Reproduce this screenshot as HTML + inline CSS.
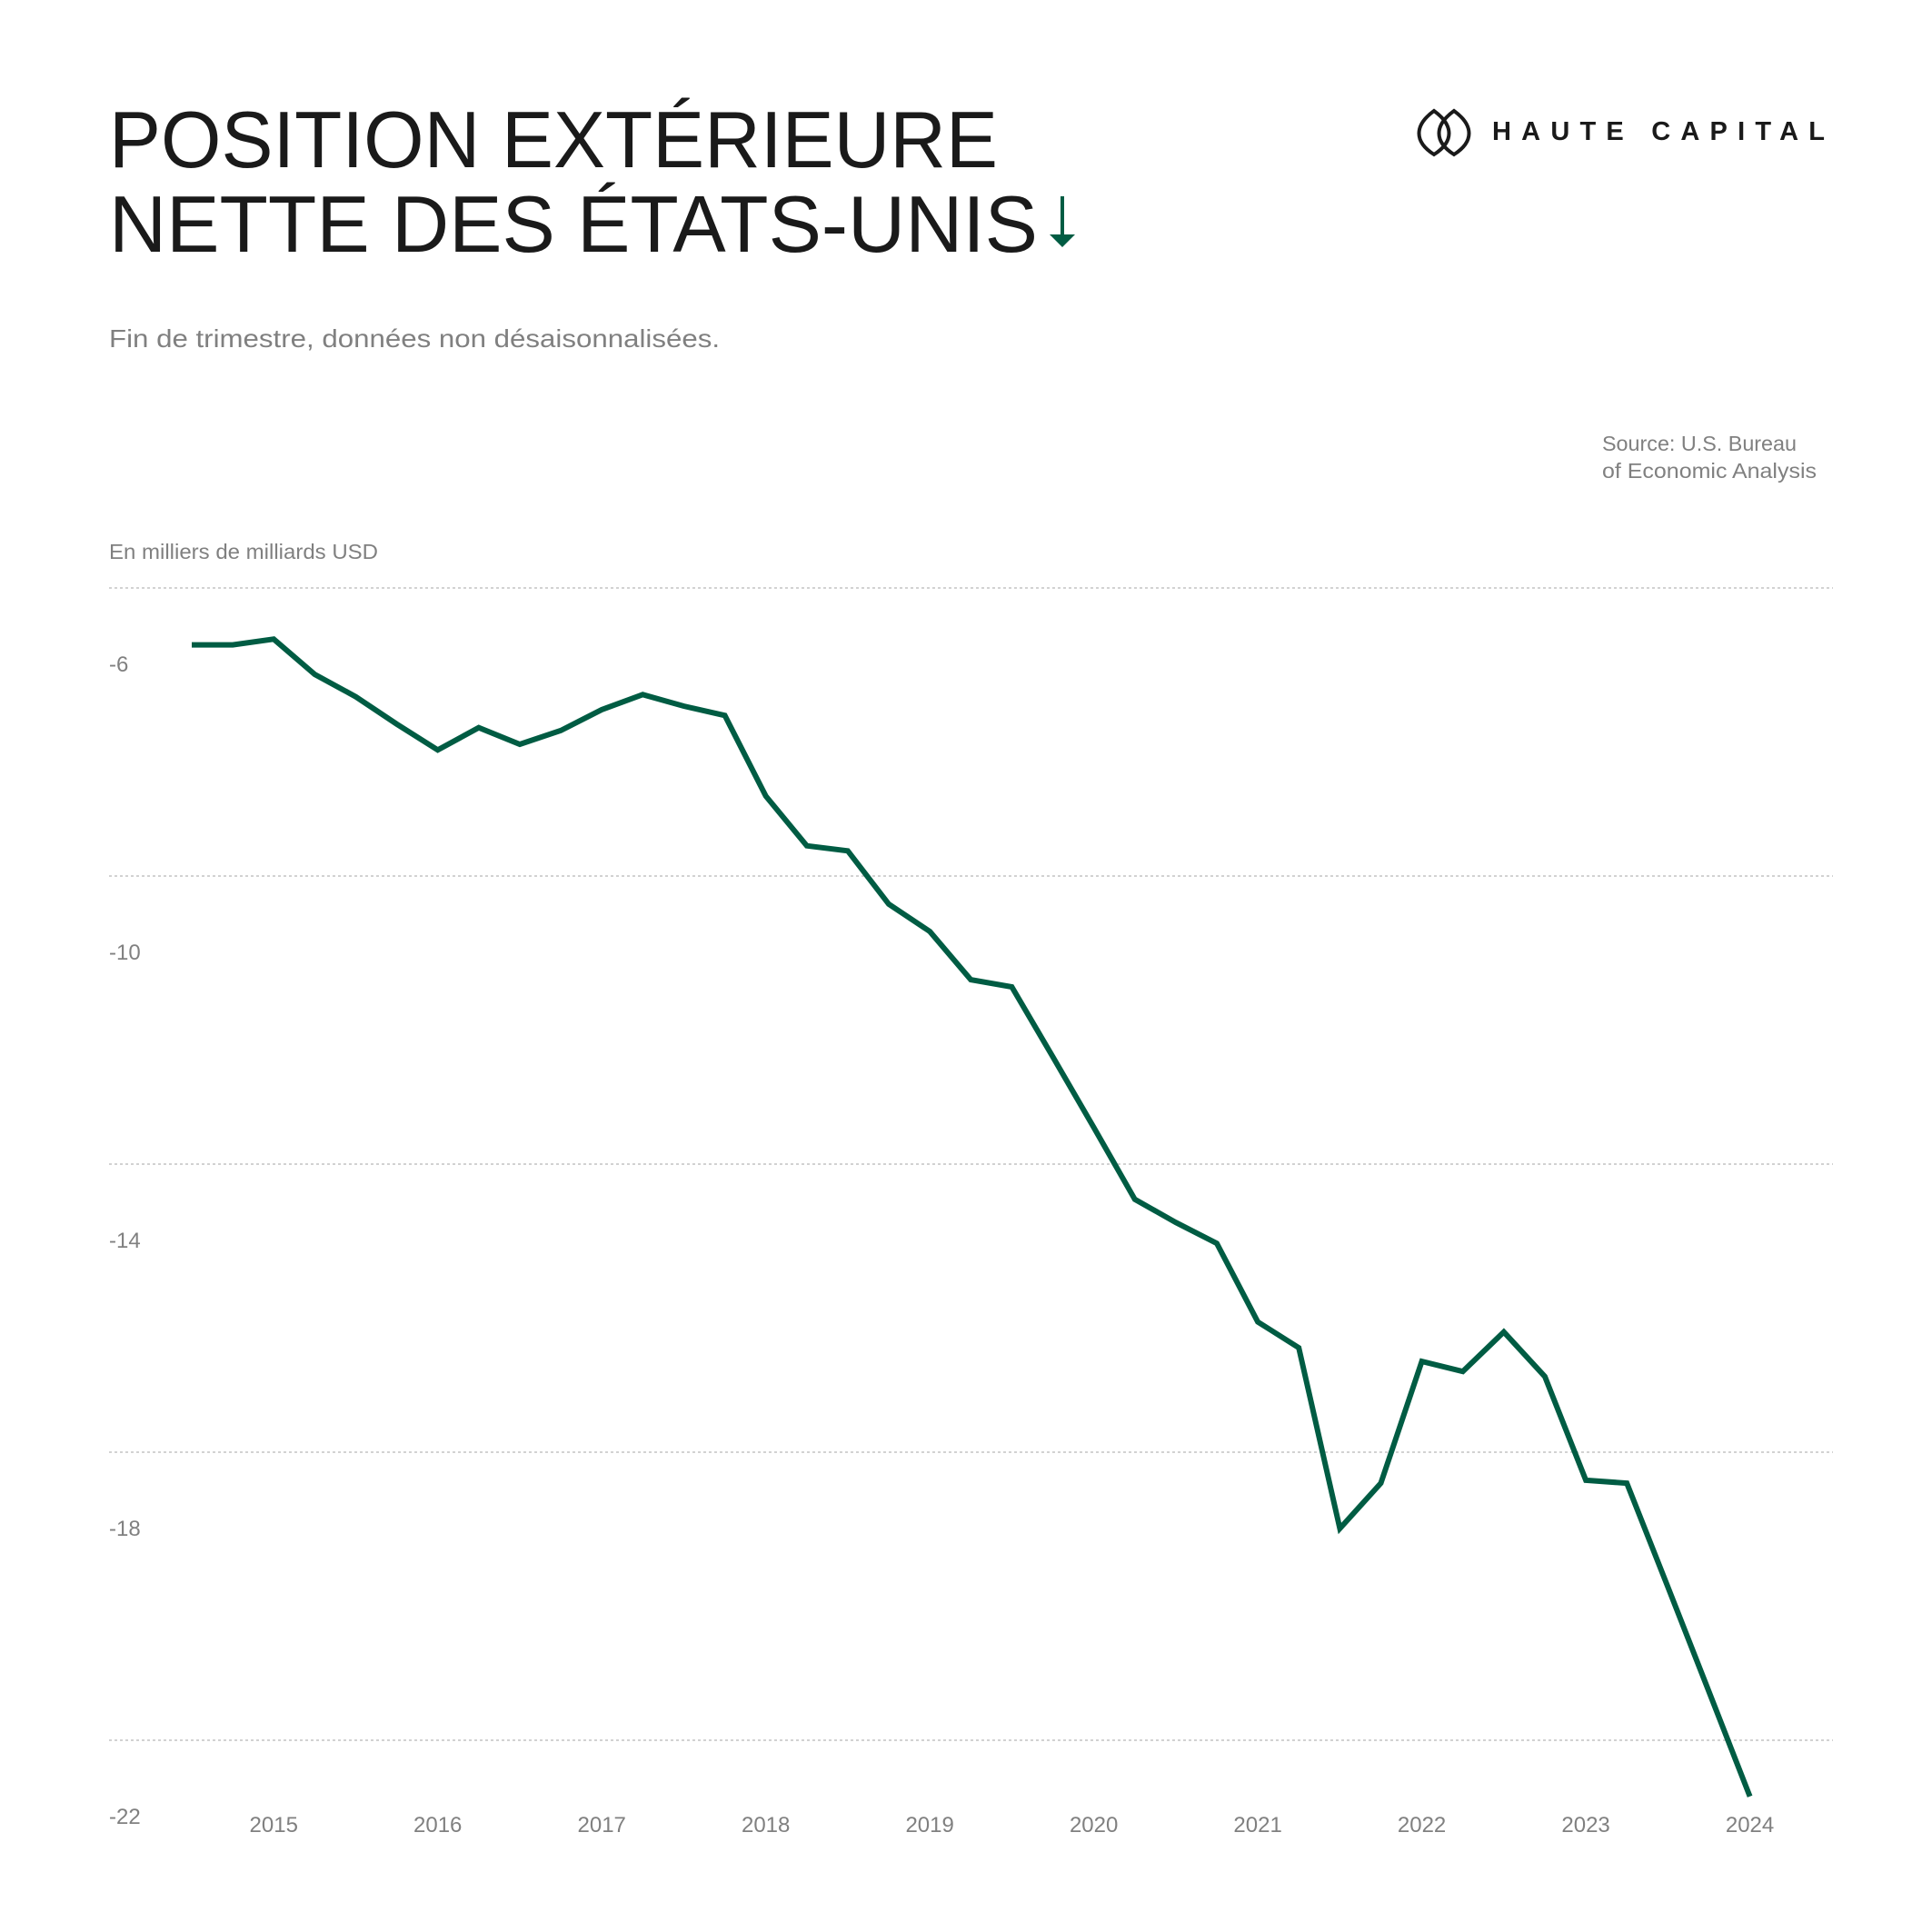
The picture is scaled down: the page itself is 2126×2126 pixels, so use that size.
<!DOCTYPE html>
<html><head><meta charset="utf-8"><style>html,body{margin:0;padding:0;background:#fff}svg{display:block}</style></head>
<body>
<svg id="chart" width="2126" height="2126" viewBox="0 0 2126 2126" xmlns="http://www.w3.org/2000/svg" font-family="Liberation Sans, sans-serif">
<rect width="2126" height="2126" fill="#fff"/>
<g fill="#1a1a1a" font-size="88">
<text x="120" y="184" textLength="978" lengthAdjust="spacingAndGlyphs">POSITION EXTÉRIEURE</text>
<text x="120" y="277" textLength="1022" lengthAdjust="spacingAndGlyphs">NETTE DES ÉTATS-UNIS</text>
</g>
<g stroke="#005c43" fill="#005c43">
<line x1="1169" y1="216" x2="1169" y2="262" stroke-width="4"/>
<polygon points="1155,258 1183,258 1169,272" stroke="none"/>
</g>
<g>
<path d="M1578,122 C1556,138 1556,156 1578,170 C1600,156 1600,138 1578,122 Z" fill="none" stroke="#1a1a1a" stroke-width="4"/>
<path d="M1600,122 C1578,138 1578,156 1600,170 C1622,156 1622,138 1600,122 Z" fill="none" stroke="#1a1a1a" stroke-width="4"/>
<text x="1642" y="154" font-size="29" font-weight="bold" fill="#1a1a1a" textLength="366" lengthAdjust="spacing">HAUTE CAPITAL</text>
</g>
<text x="120" y="382" font-size="28" fill="#808080" textLength="672" lengthAdjust="spacingAndGlyphs">Fin de trimestre, données non désaisonnalisées.</text>
<g font-size="23" fill="#808080">
<text x="1763" y="496" textLength="214" lengthAdjust="spacingAndGlyphs">Source: U.S. Bureau</text>
<text x="1763" y="526" textLength="236" lengthAdjust="spacingAndGlyphs">of Economic Analysis</text>
</g>
<text x="120" y="615" font-size="23" fill="#808080" textLength="296" lengthAdjust="spacingAndGlyphs">En milliers de milliards USD</text>
<g id="grid"></g><g id="yticks"></g><g id="xticks"></g><g id="series"></g>
</svg>
<script>
const yTickValues = [-6, -10, -14, -18, -22];
const yTickLabels = ["-6", "-10", "-14", "-18", "-22"];
const xTickLabels = ["2015","2016","2017","2018","2019","2020","2021","2022","2023","2024"];
const values = [-6.79,-6.79,-6.71,-7.20,-7.51,-7.89,-8.25,-7.94,-8.17,-7.98,-7.69,-7.48,-7.64,-7.77,-8.89,-9.58,-9.65,-10.39,-10.77,-11.44,-11.54,-12.51,-13.49,-14.49,-14.81,-15.10,-16.19,-16.55,-19.06,-18.43,-16.74,-16.88,-16.33,-16.95,-18.39,-18.43,-19.87,-21.32,-22.78];
const NS='http://www.w3.org/2000/svg';
function yScale(v){return 647 + (-6 - v)/4*317;}
function xScale(i){return 211 + i*45.12;}
const grid=document.getElementById('grid'), yt=document.getElementById('yticks'), xt=document.getElementById('xticks'), ser=document.getElementById('series');
yTickValues.forEach((v,k)=>{
  const l=document.createElementNS(NS,'line');
  
  
  const y=yScale(v);
  l.setAttribute('x1',120);l.setAttribute('x2',2017);l.setAttribute('y1',y);l.setAttribute('y2',y);
  l.setAttribute('stroke','#c4c4c4');l.setAttribute('stroke-width','1.5');l.setAttribute('stroke-dasharray','3 3');
  grid.appendChild(l);
  const t=document.createElementNS(NS,'text');
  
  
  t.setAttribute('x',120);t.setAttribute('y',y+92);t.setAttribute('font-size','24');t.setAttribute('fill','#808080');
  t.textContent=yTickLabels[k];yt.appendChild(t);
});
xTickLabels.forEach((lab,k)=>{
  const t=document.createElementNS(NS,'text');
  
  
  t.setAttribute('x',xScale(2+4*k));t.setAttribute('y',2016);t.setAttribute('font-size','24');t.setAttribute('fill','#808080');t.setAttribute('text-anchor','middle');
  t.textContent=lab;xt.appendChild(t);
});
const p=document.createElementNS(NS,'polyline');


p.setAttribute('points',values.map((v,i)=>xScale(i).toFixed(1)+','+yScale(v).toFixed(1)).join(' '));
p.setAttribute('fill','none');p.setAttribute('stroke','#005c43');p.setAttribute('stroke-width','6');p.setAttribute('stroke-linejoin','miter');
ser.appendChild(p);
</script>
</body></html>
